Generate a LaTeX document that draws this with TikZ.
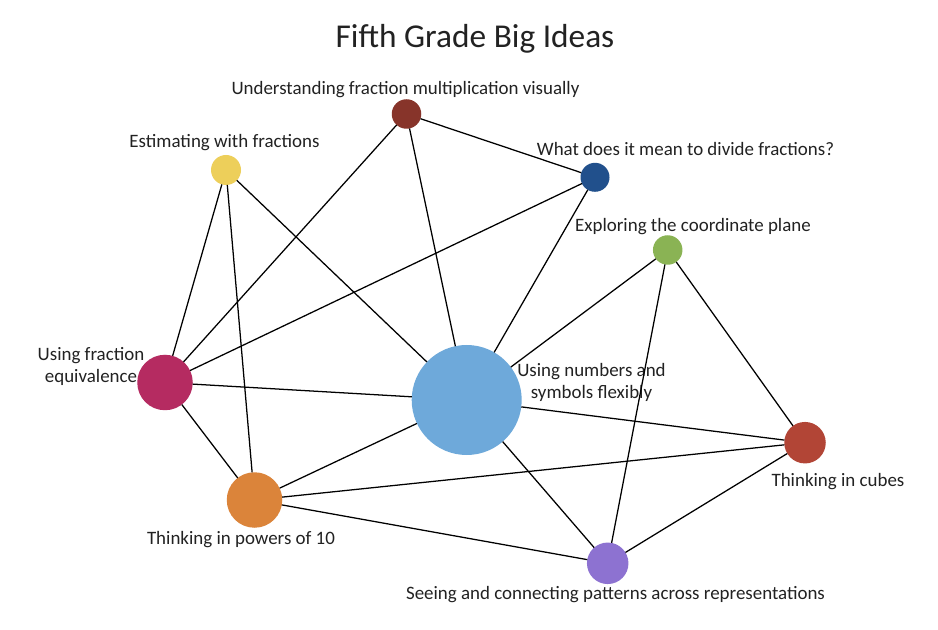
\documentclass[tikz,border=0pt]{standalone}
\usepackage{fontspec}
\setmainfont{Carlito}
\definecolor{cUnder}{HTML}{87342A}
\definecolor{cEst}{HTML}{EDCF5A}
\definecolor{cDiv}{HTML}{21508C}
\definecolor{cCoord}{HTML}{8AB354}
\definecolor{cEquiv}{HTML}{B52B61}
\definecolor{cNum}{HTML}{6EA9DA}
\definecolor{cCube}{HTML}{B24536}
\definecolor{cPow}{HTML}{DB843A}
\definecolor{cSee}{HTML}{8D72D1}
\definecolor{txt}{HTML}{222222}
\begin{document}
\begin{tikzpicture}[x=0.75pt,y=-0.75pt,
  bubble/.style={circle,inner sep=0pt,outer sep=0pt,draw=none},
  lbl/.style={text=txt,font=\fontsize{14.2}{16.5}\selectfont,inner sep=0pt,align=center},
  link/.style={draw=black,line width=0.95pt}]
\useasboundingbox[fill=white] (0,0) rectangle (938,630);
\node[text=txt,font=\fontsize{25}{30}\selectfont,inner sep=0pt] (title) at (475,39) {Fifth Grade Big Ideas};
% nodes
\node[bubble,fill=cUnder,minimum size=29.5pt*0.75] (under) at (406.5,114) {};
\node[bubble,fill=cEst,minimum size=30pt*0.75] (est) at (226,170) {};
\node[bubble,fill=cDiv,minimum size=29pt*0.75] (div) at (595,177.3) {};
\node[bubble,fill=cCoord,minimum size=29.5pt*0.75] (coord) at (667.7,250) {};
\node[bubble,fill=cEquiv,minimum size=55.5pt*0.75] (equiv) at (165,382.5) {};
\node[bubble,fill=cNum,minimum size=110pt*0.75] (num) at (466.7,400) {};
\node[bubble,fill=cCube,minimum size=41.5pt*0.75] (cube) at (805,442.7) {};
\node[bubble,fill=cPow,minimum size=55.5pt*0.75] (pow) at (254.5,500) {};
\node[bubble,fill=cSee,minimum size=41.5pt*0.75] (see) at (607.7,563.3) {};
% labels
\node[lbl] (lunder) at (405.5,90) {Understanding fraction multiplication visually};
\node[lbl] (lest) at (224.5,143) {Estimating with fractions};
\node[lbl] (ldiv) at (685.5,149) {What does it mean to divide fractions?};
\node[lbl] (lcoord) at (693,227) {Exploring the coordinate plane};
\node[lbl] (lequiv) at (91,366) {Using fraction\\equivalence};
\node[lbl] (lnum) at (591.5,382) {Using numbers and\\symbols flexibly};
\node[lbl] (lcube) at (838,482) {Thinking in cubes};
\node[lbl] (lpow) at (241,540) {Thinking in powers of 10};
\node[lbl] (lsee) at (615.5,595) {Seeing and connecting patterns across representations};
% edges
\draw[link] (under) -- (equiv);
\draw[link] (under) -- (div);
\draw[link] (under) -- (num);
\draw[link] (est) -- (equiv);
\draw[link] (est) -- (pow);
\draw[link] (est) -- (num);
\draw[link] (div) -- (equiv);
\draw[link] (div) -- (num);
\draw[link] (coord) -- (num);
\draw[link] (coord) -- (cube);
\draw[link] (coord) -- (see);
\draw[link] (equiv) -- (num);
\draw[link] (equiv) -- (pow);
\draw[link] (num) -- (cube);
\draw[link] (num) -- (pow);
\draw[link] (num) -- (see);
\draw[link] (pow) -- (cube);
\draw[link] (pow) -- (see);
\draw[link] (cube) -- (see);
\end{tikzpicture}
\end{document}
